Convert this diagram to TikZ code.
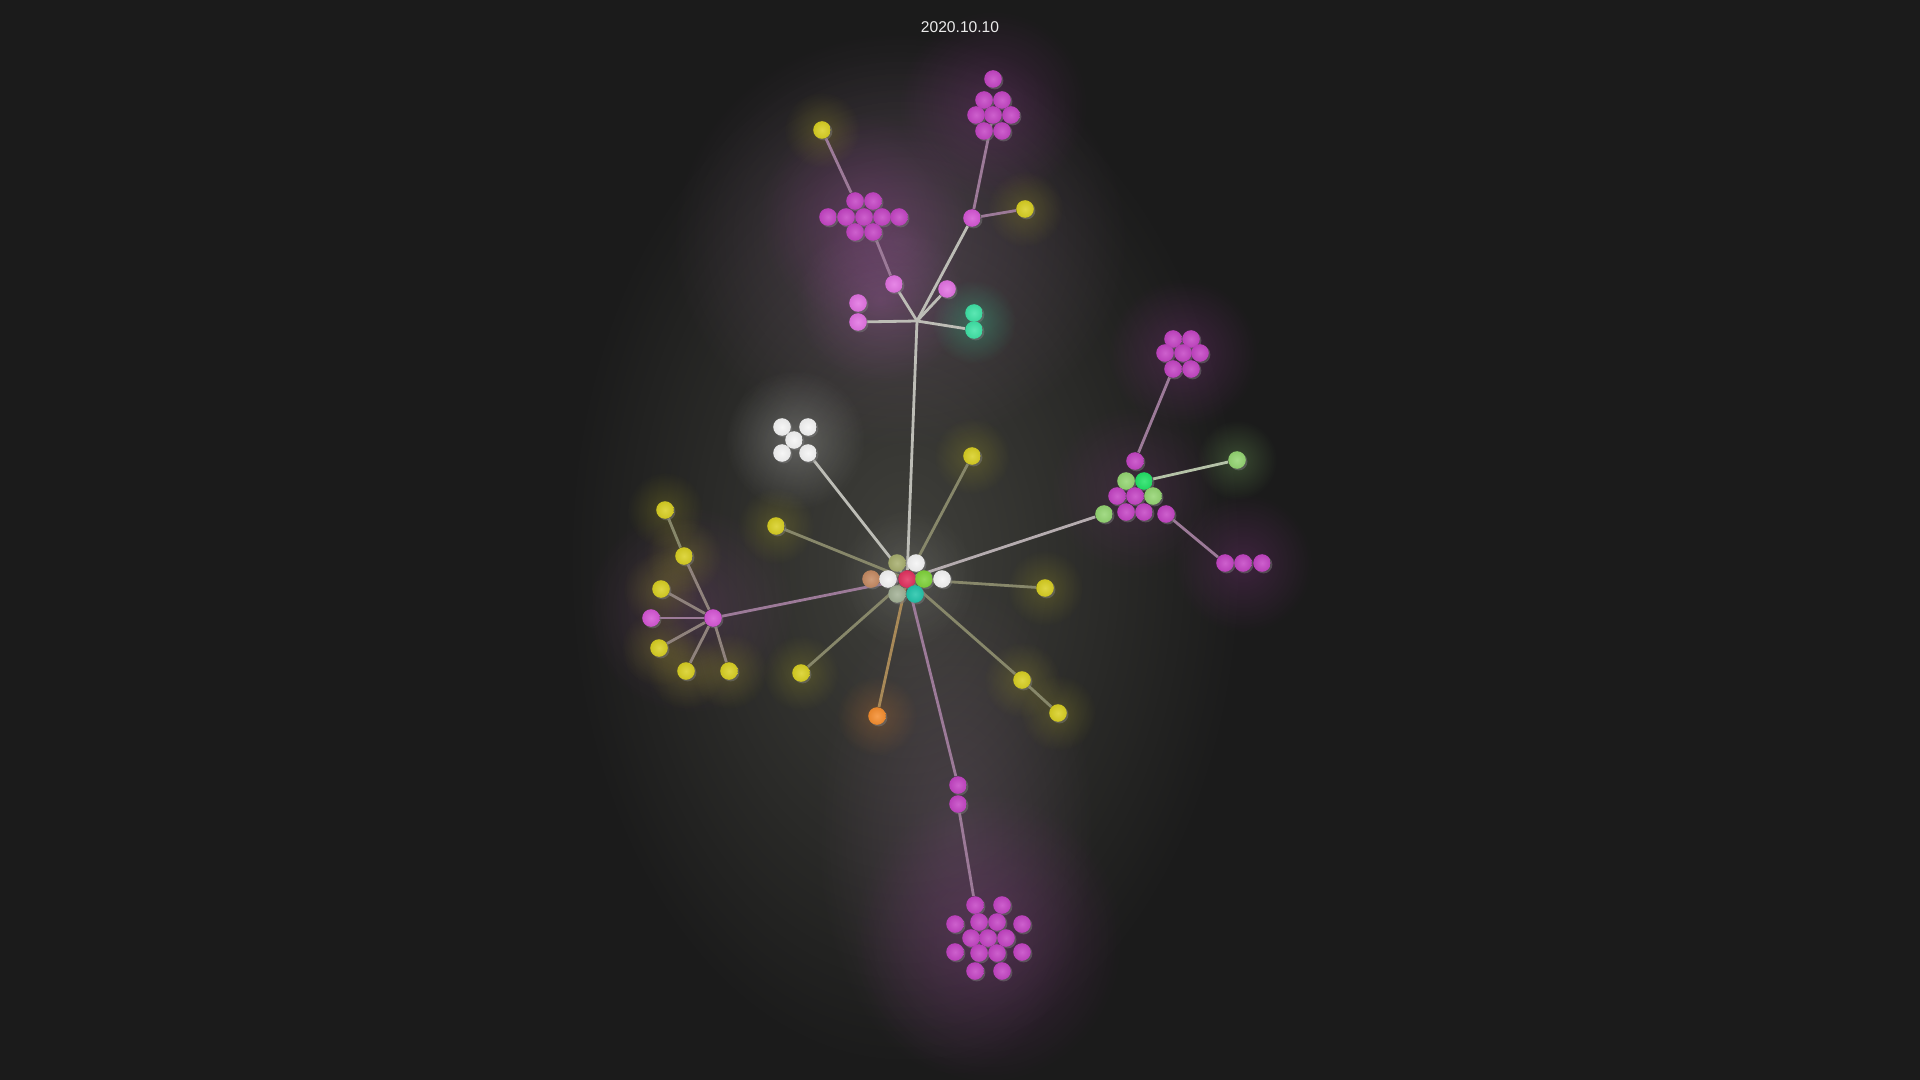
\documentclass[tikz,border=0pt]{standalone}
\usepackage{fontspec}
\newfontfamily\datefont{Liberation Sans}
\usetikzlibrary{fadings,shadows}
\pgfdeclarelayer{bg}
\pgfdeclarelayer{edges}
\pgfsetlayers{bg,edges,main}
\definecolor{bgc}{HTML}{1B1B1B}
\definecolor{mag}{HTML}{C444C4}
\definecolor{pnk}{HTML}{E272E2}
\definecolor{hubc}{HTML}{D556D5}
\definecolor{ylw}{HTML}{D8CF22}
\definecolor{tea}{HTML}{3FE3A6}
\definecolor{wht}{HTML}{F4F4F4}
\definecolor{oli}{HTML}{A7AE6E}
\definecolor{brn}{HTML}{C58A62}
\definecolor{rdc}{HTML}{E2315F}
\definecolor{grn}{HTML}{7FD23A}
\definecolor{gry}{HTML}{A3B196}
\definecolor{cyn}{HTML}{22C4AA}
\definecolor{lgr}{HTML}{94D572}
\definecolor{bgr}{HTML}{22E266}
\definecolor{org}{HTML}{F58D2E}
\definecolor{eyl}{HTML}{87876A}
\definecolor{emg}{HTML}{9C7A98}
\definecolor{ewh}{HTML}{BDBDB6}
\definecolor{glw}{HTML}{66665C}
\definecolor{glp}{HTML}{8A6A8A}
\tikzfading[name=glowfade, inner color=transparent!0, outer color=transparent!100]

\begin{document}
\begin{tikzpicture}[x=0.5pt,y=-0.5pt,
  ball/.style={circle,minimum size=8.8pt,inner sep=0pt,inner color=#1!85!white,outer color=#1!94!black,
    drop shadow={shadow xshift=0.8pt,shadow yshift=-0.8pt,opacity=0.45}},
  glow/.style={fill=#1,path fading=glowfade},
  link/.style={line width=1.4pt,draw=#1}]
\useasboundingbox (0,0) rectangle (1920,1080);

% centre cluster
\node[ball=rdc] (c0) at (907,579) {};
\node[ball=oli] (c1) at (897,563) {};
\node[ball=wht] (c2) at (916,563) {};
\node[ball=brn] (c3) at (871,579) {};
\node[ball=wht] (c4) at (888,579) {};
\node[ball=grn] (c5) at (924,579) {};
\node[ball=wht] (c6) at (942,579) {};
\node[ball=gry] (c7) at (897,594) {};
\node[ball=cyn] (c8) at (915,594) {};

% upper branch
\coordinate (j) at (917,321);
\node[ball=pnk] (p1) at (894,284) {};
\node[ball=pnk] (p2) at (947,289) {};
\node[ball=pnk] (p3) at (858,303) {};
\node[ball=pnk] (p4) at (858,322) {};
\node[ball=tea] (t1) at (974,313) {};
\node[ball=tea] (t2) at (974,330) {};
\foreach \x/\y [count=\i] in {855/201,873/201,828/217,846/217,864/217,882/217,899/217,855/232,873/232}
  \node[ball=mag] (l\i) at (\x,\y) {};
\node[ball=ylw] (y1) at (822,130) {};
\node[ball=hubc] (h1) at (972,218) {};
\node[ball=ylw] (y2) at (1025,209) {};
\foreach \x/\y [count=\i] in {993/79,984/100,1002/100,976/115,993/115,1011/115,984/131,1002/131}
  \node[ball=mag] (u\i) at (\x,\y) {};

% white group
\foreach \x/\y [count=\i] in {782/427,808/427,794/440,782/453,808/453}
  \node[ball=wht] (w\i) at (\x,\y) {};

% single leaves
\node[ball=ylw] (y3) at (776,526) {};
\node[ball=ylw] (y4) at (972,456) {};
\node[ball=ylw] (y5) at (1045,588) {};
\node[ball=ylw] (y6) at (801,673) {};
\node[ball=ylw] (y7) at (1022,680) {};
\node[ball=ylw] (y8) at (1058,713) {};
\node[ball=org] (o1) at (877,716) {};

% lower branch
\node[ball=mag] (q1) at (958,785) {};
\node[ball=mag] (q2) at (958,804) {};
\foreach \x/\y [count=\i] in {975/905,1002/905,955/924,979/922,997/922,1022/924,971/938,988/938,1006/938,955/952,979/953,997/953,1022/952,975/971,1002/971}
  \node[ball=mag] (b\i) at (\x,\y) {};

% right branch
\node[ball=mag] (r1) at (1135,461) {};
\node[ball=lgr] (r2) at (1126,481) {};
\node[ball=bgr] (r3) at (1144,481) {};
\node[ball=mag] (r4) at (1117,496) {};
\node[ball=mag] (r5) at (1135,496) {};
\node[ball=lgr] (r6) at (1153,496) {};
\node[ball=lgr] (r7) at (1104,514) {};
\node[ball=mag] (r8) at (1126,512) {};
\node[ball=mag] (r9) at (1144,512) {};
\node[ball=mag] (r10) at (1166,514) {};
\node[ball=lgr] (g1) at (1237,460) {};
\foreach \x/\y [count=\i] in {1173/339,1191/339,1165/353,1183/353,1200/353,1173/369,1191/369}
  \node[ball=mag] (s\i) at (\x,\y) {};
\foreach \x/\y [count=\i] in {1225/563,1243/563,1262/563}
  \node[ball=mag] (k\i) at (\x,\y) {};

% left branch
\node[ball=hubc] (h2) at (713,618) {};
\node[ball=ylw] (y9) at (684,556) {};
\node[ball=ylw] (y10) at (665,510) {};
\node[ball=ylw] (y11) at (661,589) {};
\node[ball=hubc] (m1) at (651,618) {};
\node[ball=ylw] (y12) at (659,648) {};
\node[ball=ylw] (y13) at (686,671) {};
\node[ball=ylw] (y14) at (729,671) {};

\node[text=wht!92!gray,font=\datefont\fontsize{7.8}{9}\selectfont] (date) at (960,27) {2020.10.10};

\begin{pgfonlayer}{edges}
\draw[link=ewh] (c0) -- (j);
\draw[link=ewh] (j) -- (p1);
\draw[link=emg] (p1) -- (l9);
\draw[link=emg] (l1) -- (y1);
\draw[link=ewh] (j) -- (p2);
\draw[link=ewh] (j) -- (h1);
\draw[link=emg] (h1) -- (u5);
\draw[link=emg] (h1) -- (y2);
\draw[link=ewh] (j) -- (p4);
\draw[link=ewh] (j) -- (t2);
\draw[link=ewh] (c0) -- (w5);
\draw[link=eyl] (c0) -- (y3);
\draw[link=eyl] (c0) -- (y4);
\draw[link=eyl] (c0) -- (y5);
\draw[link=eyl] (c0) -- (y6);
\draw[link=eyl] (c0) -- (y7);
\draw[link=eyl] (y7) -- (y8);
\draw[link=eyl!70!org] (c0) -- (o1);
\draw[link=emg] (c0) -- (q1);
\draw[link=emg] (q2) -- (b1);
\draw[link=ewh!75!emg] (c0) -- (r7);
\draw[link=ewh!80!lgr] (r3) -- (g1);
\draw[link=emg] (r1) -- (s6);
\draw[link=emg] (r10) -- (k1);
\draw[link=emg] (c0) -- (h2);
\draw[link=eyl!60!emg] (h2) -- (y9);
\draw[link=eyl] (y9) -- (y10);
\draw[link=eyl!60!emg] (h2) -- (y11);
\draw[link=emg] (h2) -- (m1);
\draw[link=eyl!60!emg] (h2) -- (y12);
\draw[link=eyl!60!emg] (h2) -- (y13);
\draw[link=eyl!60!emg] (h2) -- (y14);
\end{pgfonlayer}

\begin{pgfonlayer}{bg}
\fill[bgc] (0,0) rectangle (1920,1080);
\fill[glow=glw,opacity=.5] (905,560) ellipse (340 and 510);
\fill[glow=glp,opacity=.35] (900,240) ellipse (230 and 210);
\fill[glow=glp,opacity=.28] (955,830) ellipse (140 and 250);
\fill[glow=mag,opacity=.2] (993,105) circle (95);
\fill[glow=mag,opacity=.2] (864,217) circle (105);
\fill[glow=mag,opacity=.22] (1183,353) circle (75);
\fill[glow=mag,opacity=.2] (1243,563) circle (70);
\fill[glow=mag,opacity=.22] (988,938) ellipse (135 and 145);
\fill[glow=mag,opacity=.14] (1135,490) circle (85);
\fill[glow=pnk,opacity=.2] (880,300) circle (85);
\fill[glow=pnk,opacity=.14] (690,610) circle (105);
\fill[glow=wht,opacity=.25] (795,440) circle (70);
\fill[glow=tea,opacity=.3] (974,322) circle (42);
\fill[glow=lgr,opacity=.25] (1237,460) circle (40);
\fill[glow=org,opacity=.22] (877,716) circle (40);
\fill[glow=wht,opacity=.12] (907,579) circle (70);
\foreach \p in {y1,y2,y3,y4,y5,y6,y7,y8,y9,y10,y11,y12,y13,y14}
  \fill[glow=ylw,opacity=.2] (\p) circle (38);
\end{pgfonlayer}
\end{tikzpicture}
\end{document}
